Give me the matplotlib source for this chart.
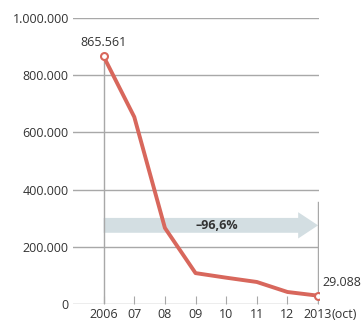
import matplotlib.pyplot as plt
from matplotlib.patches import FancyArrow

plt.rcParams['font.family'] = ['Open Sans', 'DejaVu Sans']

years = [2006, 2007, 2008, 2009, 2010, 2011, 2012, 2013]
values = [865561, 654000, 266000, 108000, 92000, 77000, 42000, 29088]
xlabels = ['2006', '07', '08', '09', '10', '11', '12', '2013']
yticks = [0, 200000, 400000, 600000, 800000, 1000000]
ylabels = ['0', '200.000', '400.000', '600.000', '800.000', '1.000.000']

red = '#d8675c'
grey = '#a8a8a8'
txt = '#333333'

fig = plt.figure(figsize=(3.63, 3.22), dpi=100)
ax = fig.add_axes([73 / 363, 18 / 322, 246 / 363, 286 / 322])
ax.set_xlim(2005.0, 2013.03)
ax.set_ylim(0, 1000000)

for y in yticks:
    ax.axhline(y, color=grey, lw=1, zorder=1)

# arrow band
ax.add_patch(FancyArrow(2006, 275000, 6.35, 0, width=52000, head_width=92000,
                        head_length=0.65, length_includes_head=False,
                        color='#d3dee2', lw=0, zorder=2))
ax.text(2009.7, 275000, '\u201396,6%', fontsize=9, fontweight='bold', color=txt,
        ha='center', va='center', zorder=4)

# vertical guides
ax.plot([2006, 2006], [0, values[0]], color=grey, lw=1, zorder=3)
ax.plot([2013, 2013], [0, 355000], color=grey, lw=1, zorder=3)

ax.plot(years, values, color=red, lw=2.8, solid_capstyle='round', zorder=5)
ax.plot([years[0], years[-1]], [values[0], values[-1]], 'o', ms=5,
        mfc='white', mec=red, mew=1.5, zorder=6)

ax.text(2006, 915000, '865.561', fontsize=9, color=txt, ha='center', va='center')
ax.text(2013.15, 75000, '29.088', fontsize=9, color=txt, ha='left',
        va='center', clip_on=False)
ax.annotate('(oct)', xy=(2013.45, 0), xycoords=('data', 'axes fraction'),
            xytext=(0, -3), textcoords='offset points', fontsize=9, color=txt,
            ha='left', va='top', annotation_clip=False)

for s in ax.spines.values():
    s.set_visible(False)
ax.set_yticks(yticks)
ax.set_yticklabels(ylabels)
ax.set_xticks(years)
ax.set_xticklabels(xlabels)
ax.tick_params(axis='y', length=0, pad=3, labelsize=9, labelcolor=txt)
ax.tick_params(axis='x', direction='in', length=6, color=grey, pad=3, labelsize=9,
               labelcolor=txt)

fig.savefig('out.png', dpi=100)
